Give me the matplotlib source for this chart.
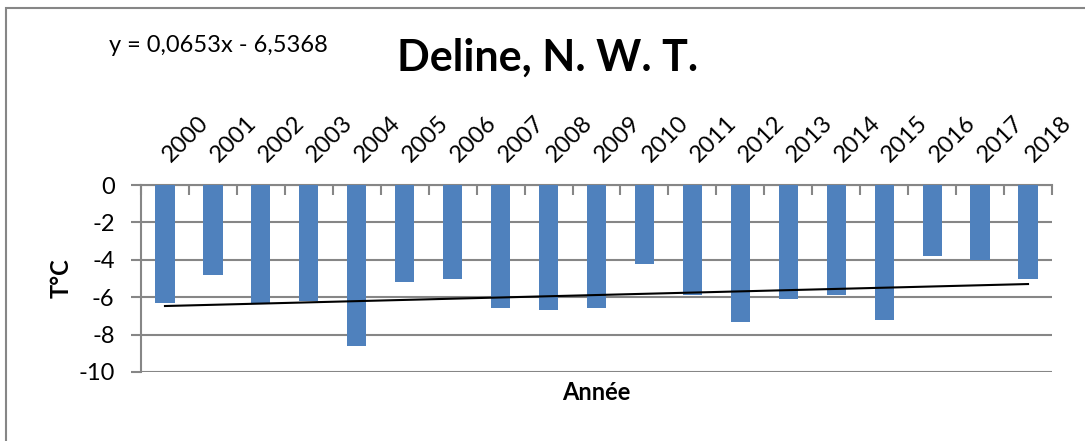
import numpy as np
import matplotlib
matplotlib.use("Agg")
import matplotlib.pyplot as plt
from matplotlib.patches import Rectangle
from matplotlib.transforms import ScaledTranslation

# annual mean temperature, Deline N.W.T.
years = [2000, 2001, 2002, 2003, 2004, 2005, 2006, 2007, 2008, 2009,
         2010, 2011, 2012, 2013, 2014, 2015, 2016, 2017, 2018]
temps = [-6.3, -4.8, -6.3, -6.2, -8.6, -5.2, -5.0, -6.6, -6.7, -6.6,
         -4.2, -5.9, -7.3, -6.1, -5.9, -7.2, -3.8, -4.0, -5.0]
# linear trend as given on the chart (x = 1..n)
slope = 0.0653
intercept = -6.5368
yticks = [0, -2, -4, -6, -8, -10]

plt.rcParams['font.family'] = ['Lato', 'DejaVu Sans']

fig = plt.figure(figsize=(10.85, 4.41), dpi=100)
ax = fig.add_axes([141 / 1085, 1 - 372 / 441, (1052 - 141) / 1085, (372 - 185) / 441])

n = len(years)
x = np.arange(1, n + 1)
ax.bar(x, temps, width=0.4, color='#4f81bd', zorder=3)
ax.plot([x[0], x[-1]], [slope * x[0] + intercept, slope * x[-1] + intercept],
        color='black', lw=1.5, zorder=4)

ax.set_xlim(0.5, n + 0.5)
ax.set_ylim(-10, 0)
ax.set_yticks(yticks)
ax.set_yticklabels([str(v) for v in yticks], fontsize=17)
ax.yaxis.grid(True, color='#868686', lw=1.5)
ax.set_axisbelow(True)

# category boundaries get the ticks, labels go on the centres
ax.xaxis.tick_top()
ax.set_xticks(np.arange(0.5, n + 1.5, 1.0))
ax.set_xticklabels([])
ax.tick_params(axis='x', which='major', direction='in', length=7, width=1.5, color='#868686')
ax.set_xticks(x, minor=True)
ax.set_xticklabels([str(y) for y in years], minor=True, rotation=45,
                   ha='left', va='bottom', rotation_mode='anchor', fontsize=17)
ax.tick_params(axis='x', which='minor', length=0, pad=14)
shift = ScaledTranslation(9 / 100, 0, fig.dpi_scale_trans)
for lbl in ax.get_xticklabels(minor=True):
    lbl.set_transform(lbl.get_transform() + shift)
ax.tick_params(axis='y', length=7, width=1.5, color='#868686', pad=12)

for side in ['right', 'bottom']:
    ax.spines[side].set_visible(False)
for side in ['left', 'top']:
    ax.spines[side].set_color('#868686')
    ax.spines[side].set_linewidth(1.5)

ax.set_ylabel('T°C', fontsize=17, fontweight='bold', labelpad=4)
fig.text(596 / 1085, 1 - 393 / 441, 'Année', ha='center', va='center',
         fontsize=17, fontweight='bold')
fig.text(548 / 1085, 1 - 58 / 441, 'Deline, N. W. T.', ha='center', va='center',
         fontsize=31, fontweight='bold')
fig.text(218 / 1085, 1 - 45 / 441, 'y = 0,0653x - 6,5368', ha='center', va='center',
         fontsize=17)

fig.patches.append(Rectangle((6 / 1085, -0.1), 1.2, 1 - 7.5 / 441 + 0.1,
                             transform=fig.transFigure, fill=False,
                             edgecolor='#868686', lw=1.5))

fig.savefig('out.png', dpi=100)
